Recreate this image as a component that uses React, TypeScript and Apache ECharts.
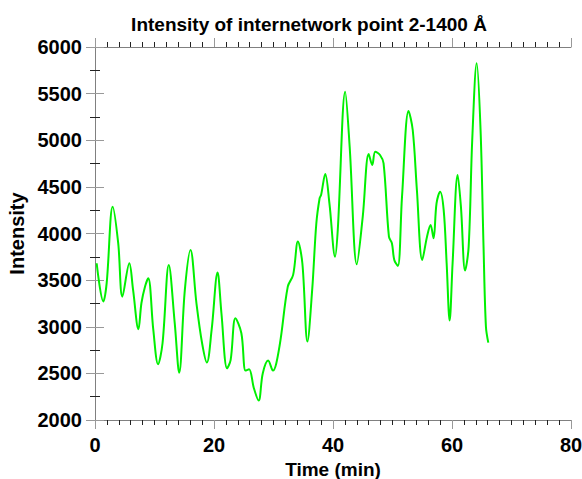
import React, { useEffect, useRef } from "react";
import * as echarts from "echarts";

const timeMin = [0.28, 1.4, 1.96, 2.97, 3.9, 4.6, 5.77, 6.4, 7.3, 7.8, 8.4, 8.95, 9.8, 10.6, 11.35, 12.4, 13.4, 14.15, 15.1, 16.05, 17.05, 18.0, 18.8, 19.6, 20.6, 21.25, 22.2, 22.8, 23.6, 24.6, 25.3, 25.9, 26.7, 27.5, 28.2, 29.1, 29.9, 31.0, 32.4, 33.3, 34.1, 34.85, 35.7, 36.5, 37.2, 37.75, 38.0, 38.7, 39.4, 40.35, 40.8, 42.05, 42.8, 44.0, 45.0, 46.0, 46.6, 47.1, 47.9, 48.5, 49.4, 49.9, 50.3, 50.9, 51.6, 52.7, 53.4, 54.1, 55.0, 55.8, 56.4, 56.9, 57.4, 58.0, 58.6, 59.1, 59.6, 60.1, 60.95, 61.5, 62.2, 62.8, 63.4, 64.15, 64.8, 65.3, 65.7, 66.1];
const intensity = [3681, 3270, 3467, 4288, 3896, 3323, 3681, 3395, 2974, 3252, 3430, 3520, 2966, 2598, 2823, 3663, 3038, 2508, 3395, 3824, 3252, 2823, 2616, 2966, 3581, 3145, 2555, 2645, 3091, 2930, 2530, 2545, 2341, 2208, 2502, 2637, 2530, 2787, 3430, 3556, 3913, 3681, 2841, 3395, 4110, 4378, 4413, 4639, 4324, 3752, 4038, 5521, 4931, 3670, 4181, 4853, 4735, 4878, 4842, 4753, 3966, 3896, 3717, 3652, 4395, 5314, 5110, 4467, 3717, 3966, 4092, 3949, 4324, 4449, 4253, 3681, 3066, 3681, 4628, 4288, 3602, 3859, 5003, 5825, 5110, 3859, 3002, 2830];

const titleText = "Intensity of internetwork point 2-1400 Å";
const xName = "Time (min)";
const yName = "Intensity";

export default function App() {
  const ref = useRef<HTMLDivElement>(null);
  useEffect(() => {
    if (!ref.current) return;
    const chart = echarts.init(ref.current, null, { renderer: "svg" });
    const font = "Liberation Sans, Arial, sans-serif";
    const axisLine = { show: true, lineStyle: { color: "#808080", width: 1 } };
    const tick = { show: true, inside: false, length: 9, lineStyle: { color: "#999" } };
    const xMinor = { show: true, splitNumber: 10, length: 5, lineStyle: { color: "#222" } };
    const yMinor = { show: true, splitNumber: 2, length: 5, lineStyle: { color: "#222" } };
    const labelStyle = { fontFamily: font, fontSize: 20, fontWeight: "bold", color: "#000" };
    chart.setOption({
      animation: false,
      backgroundColor: "#fff",
      title: {
        text: titleText,
        left: 304,
        top: 10,
        textAlign: "center",
        textStyle: { fontFamily: font, fontSize: 19, fontWeight: "bold", color: "#000" },
      },
      grid: { left: 95, right: 11, top: 47, bottom: 59, containLabel: false, outerBoundsMode: "none" },
      xAxis: [
        {
          type: "value",
          min: 0,
          max: 80,
          interval: 20,
          name: xName,
          nameLocation: "middle",
          nameGap: 30,
          nameTextStyle: { fontFamily: font, fontSize: 19, fontWeight: "bold", color: "#000" },
          axisLine,
          axisTick: tick,
          minorTick: xMinor,
          splitLine: { show: false },
          axisLabel: { ...labelStyle, margin: 15, formatter: (v: number) => String(v) },
        },
        {
          type: "value",
          position: "top",
          min: 0,
          max: 80,
          interval: 20,
          axisLine,
          axisTick: tick,
          minorTick: xMinor,
          splitLine: { show: false },
          axisLabel: { show: false },
        },
      ],
      yAxis: [
        {
          type: "value",
          min: 2000,
          max: 6000,
          interval: 500,
          name: yName,
          nameLocation: "middle",
          nameGap: 68,
          nameTextStyle: { fontFamily: font, fontSize: 20, fontWeight: "bold", color: "#000" },
          axisLine,
          axisTick: tick,
          minorTick: yMinor,
          splitLine: { show: false },
          axisLabel: { ...labelStyle, margin: 13, formatter: (v: number) => String(v) },
        },
        {
          type: "value",
          position: "right",
          min: 2000,
          max: 6000,
          interval: 500,
          axisLine,
          axisTick: tick,
          minorTick: yMinor,
          splitLine: { show: false },
          axisLabel: { show: false },
        },
      ],
      series: [
        {
          type: "line",
          data: timeMin.map((t, i) => [t, intensity[i]]),
          smooth: 0.35,
          showSymbol: false,
          lineStyle: { color: "#00f000", width: 2 },
        },
      ],
    });
    return () => chart.dispose();
  }, []);
  return <div ref={ref} style={{ width: 582, height: 479, position: "absolute", left: 0, top: 0 }} />;
}
